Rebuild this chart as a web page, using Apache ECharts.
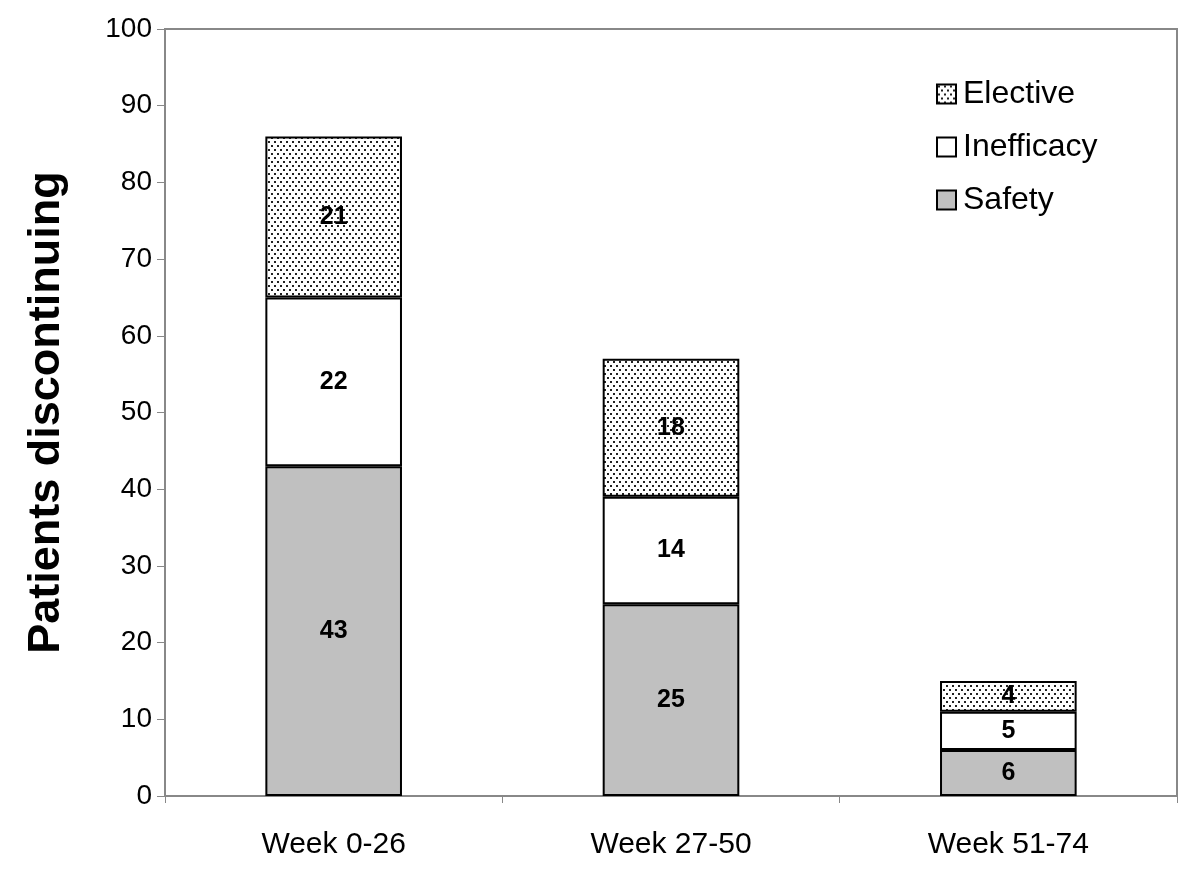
<!DOCTYPE html>
<html><head><meta charset="utf-8">
<script src="https://cdn.jsdelivr.net/npm/echarts@6/dist/echarts.min.js"></script>
<style>html,body{margin:0;padding:0;background:#fff}#c{width:1200px;height:876px}</style>
</head><body><div id="c"></div>
<script>
const categories = ['Week 0-26', 'Week 27-50', 'Week 51-74'];
const safety = [43, 25, 6];
const inefficacy = [22, 14, 5];
const elective = [21, 18, 4];
const yTicks = [0, 10, 20, 30, 40, 50, 60, 70, 80, 90, 100];

function dotPattern() {
  const c = document.createElement('canvas');
  c.width = 6; c.height = 8;
  const g = c.getContext('2d');
  g.fillStyle = '#fff'; g.fillRect(0, 0, 6, 8);
  g.fillStyle = '#222';
  g.fillRect(1, 1, 2, 2);
  g.fillRect(4, 5, 2, 2);
  return c;
}
const pat = { image: dotPattern(), repeat: 'repeat' };
const FONT = '"Liberation Sans", Arial, sans-serif';
const lbl = { show: true, position: 'inside', color: '#000', fontWeight: 'bold', fontSize: 25, fontFamily: FONT };
const chart = echarts.init(document.getElementById('c'));
chart.setOption({
  animation: false,
  backgroundColor: '#fff',
  grid: { left: 165, right: 23, top: 29, bottom: 80, show: true, borderColor: '#888', borderWidth: 2, backgroundColor: 'transparent' },
  legend: {
    data: ['Elective', 'Inefficacy', 'Safety'],
    orient: 'vertical', left: 931, top: 73, itemGap: 21, itemWidth: 19, itemHeight: 19, icon: 'rect',
    textStyle: { fontSize: 32, lineHeight: 32, fontFamily: FONT, color: '#000', padding: [0, 0, 0, 2] }
  },
  xAxis: {
    type: 'category', data: categories,
    axisLine: { lineStyle: { color: '#888', width: 2 } },
    axisTick: { show: true, length: 7, lineStyle: { color: '#888', width: 1 } },
    axisLabel: { fontSize: 30, fontFamily: FONT, color: '#000', margin: 34 }
  },
  yAxis: {
    type: 'value', min: yTicks[0], max: yTicks[yTicks.length - 1], interval: 10,
    name: 'Patients discontinuing', nameLocation: 'middle', nameGap: 96,
    nameTextStyle: { fontSize: 45, fontWeight: 'bold', fontFamily: FONT, color: '#000' },
    axisLine: { show: true, lineStyle: { color: '#888', width: 2 } },
    axisTick: { show: true, length: 8, lineStyle: { color: '#888', width: 1 } },
    splitLine: { show: false },
    axisLabel: { fontSize: 28, fontFamily: FONT, color: '#000', margin: 13 }
  },
  series: [
    { name: 'Safety', type: 'bar', stack: 's', data: safety, barWidth: '40.5%',
      itemStyle: { color: '#c0c0c0', borderColor: '#000', borderWidth: 2 }, label: lbl },
    { name: 'Inefficacy', type: 'bar', stack: 's', data: inefficacy,
      itemStyle: { color: '#fff', borderColor: '#000', borderWidth: 2 }, label: lbl },
    { name: 'Elective', type: 'bar', stack: 's', data: elective,
      itemStyle: { color: pat, borderColor: '#000', borderWidth: 2 }, label: lbl }
  ]
});
</script></body></html>
